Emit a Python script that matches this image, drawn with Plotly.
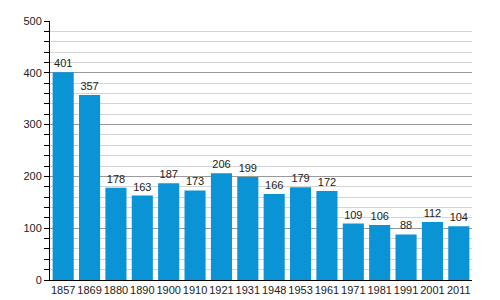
import plotly.graph_objects as go

years = ["1857", "1869", "1880", "1890", "1900", "1910", "1921", "1931", "1948",
         "1953", "1961", "1971", "1981", "1991", "2001", "2011"]
values = [401, 357, 178, 163, 187, 173, 206, 199, 166, 179, 172, 109, 106, 88, 112, 104]

fig = go.Figure(go.Bar(
    x=years, y=values, marker_color="#0a94d6", marker_line_width=0,
    text=[str(v) for v in values], textposition="outside",
    textfont=dict(family="Liberation Sans, Arial", size=11, color="#222"),
    cliponaxis=False,
))
fig.update_layout(
    width=500, height=300, margin=dict(l=50, r=28, t=21, b=20, autoexpand=False),
    paper_bgcolor="white", plot_bgcolor="white", bargap=0.2, showlegend=False,
    font=dict(family="Liberation Sans, Arial", size=11, color="#222"),
)
fig.update_xaxes(type="category", showline=True, linecolor="black", linewidth=1,
                 ticks="", tickangle=0, automargin=False, tickfont=dict(size=11),
                 showgrid=False)
fig.update_yaxes(range=[0, 500], dtick=100, showline=True, linecolor="black", linewidth=1,
                 ticks="outside", ticklen=5, tickcolor="black", automargin=False,
                 gridcolor="#9a9a9a", gridwidth=1, zeroline=False,
                 minor=dict(dtick=20, showgrid=True, gridcolor="#d4d4d4",
                            ticks="outside", ticklen=5, tickcolor="black"),
                 tickfont=dict(size=11))
fig.write_html("out.html")
